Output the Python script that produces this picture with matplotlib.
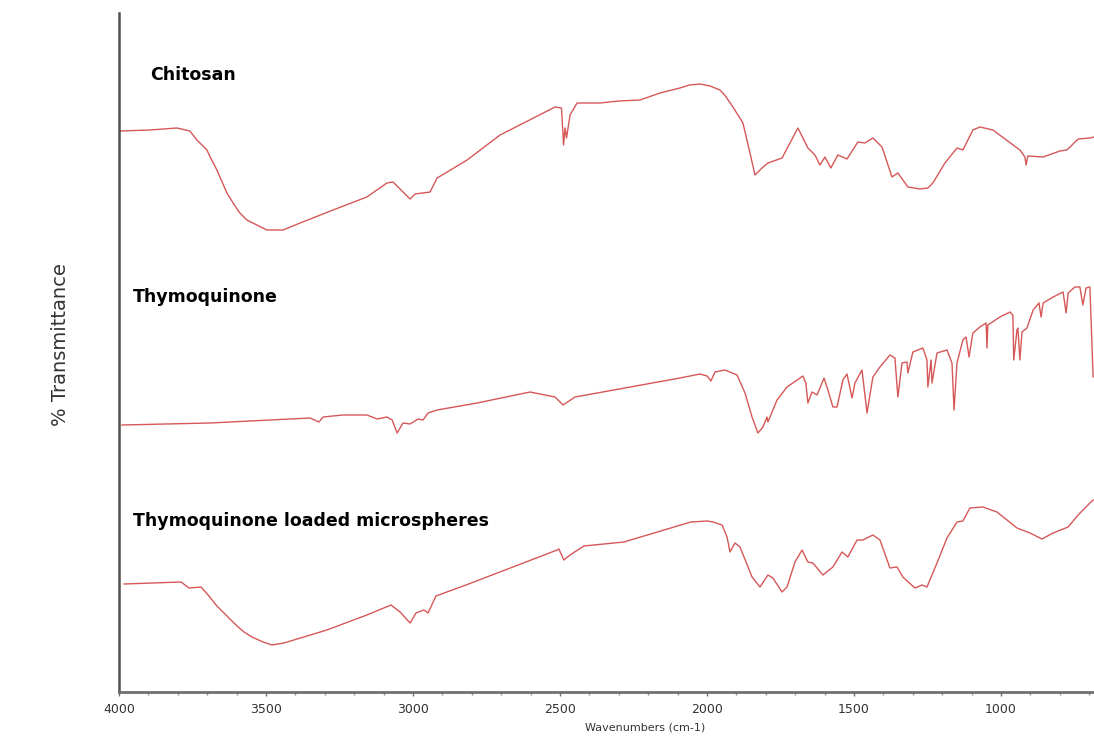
import matplotlib
matplotlib.use("Agg")
import matplotlib.pyplot as plt
from matplotlib.ticker import MultipleLocator

# FTIR spectra, wavenumber (cm-1) vs offset transmittance
chitosan_wn = [3997, 3895, 3803, 3759, 3735, 3701, 3690, 3667, 3633, 3612, 3589, 3565,
               3531, 3497, 3442, 3384, 3272, 3157, 3089, 3068, 3010, 2993, 2942, 2918,
               2816, 2704, 2517, 2495, 2488, 2483, 2478, 2466, 2442, 2364, 2300, 2228,
               2160, 2092, 2060, 2024, 1990, 1973, 1956, 1940, 1912, 1878, 1854, 1837,
               1813, 1793, 1745, 1718, 1691, 1657, 1633, 1616, 1599, 1579, 1555, 1524,
               1487, 1463, 1436, 1405, 1371, 1351, 1317, 1276, 1249, 1232, 1191, 1150,
               1130, 1096, 1072, 1028, 936, 919, 915, 909, 857, 800, 776, 738, 698, 684]
chitosan_t = [561, 562, 564, 561, 552, 542, 535, 522, 499, 489, 479, 472,
              467, 462, 462, 469, 482, 495, 509, 510, 493, 498, 500, 514,
              532, 557, 585, 584, 547, 564, 554, 577, 589, 589, 591, 592,
              599, 604, 607, 608, 606, 604, 602, 597, 585, 569, 539, 517,
              524, 529, 534, 549, 564, 544, 537, 527, 535, 524, 537, 533,
              550, 549, 554, 545, 515, 519, 505, 503, 504, 509, 529, 544,
              542, 562, 565, 562, 542, 535, 527, 536, 535, 541, 542, 553, 554, 555]

thymo_wn = [3990, 3690, 3350, 3320, 3306, 3238, 3157, 3122, 3089, 3071, 3054, 3034,
            3010, 2983, 2966, 2949, 2918, 2782, 2602, 2517, 2490, 2449, 2092, 2024,
            2000, 1987, 1973, 1939, 1898, 1871, 1847, 1827, 1810, 1796, 1793, 1762,
            1728, 1674, 1664, 1657, 1643, 1626, 1602, 1589, 1572, 1558, 1538, 1524,
            1507, 1497, 1473, 1456, 1436, 1412, 1378, 1361, 1351, 1337, 1320, 1317,
            1300, 1266, 1252, 1249, 1238, 1235, 1218, 1184, 1167, 1160, 1150, 1130,
            1119, 1116, 1109, 1096, 1072, 1051, 1048, 1045, 1004, 970, 960, 957,
            946, 943, 936, 929, 912, 891, 871, 864, 857, 823, 789, 779, 772, 749,
            732, 722, 711, 698, 687]
thymo_t = [267, 269, 274, 270, 275, 277, 277, 273, 275, 272, 259, 269,
           268, 273, 272, 279, 282, 289, 300, 295, 287, 295, 314, 318,
           316, 311, 320, 322, 317, 299, 275, 259, 265, 275, 270, 292,
           305, 316, 309, 289, 300, 297, 314, 302, 285, 285, 312, 318,
           294, 309, 322, 279, 315, 325, 337, 334, 295, 329, 330, 319,
           340, 344, 332, 305, 332, 309, 339, 342, 329, 282, 329, 352,
           355, 349, 335, 359, 365, 369, 344, 367, 375, 380, 377, 332,
           362, 364, 332, 360, 364, 382, 389, 375, 389, 395, 400, 379, 399, 405,
           405, 387, 404, 405, 315]

micro_wn = [3983, 3789, 3762, 3721, 3694, 3667, 3602, 3575, 3548, 3510, 3480, 3439,
            3293, 3157, 3075, 3044, 3010, 2990, 2963, 2949, 2922, 2820, 2687, 2510,
            2504, 2487, 2466, 2419, 2283, 2055, 2000, 1980, 1949, 1932, 1922, 1905,
            1888, 1847, 1820, 1793, 1776, 1745, 1728, 1701, 1677, 1657, 1640, 1606,
            1572, 1541, 1521, 1490, 1470, 1436, 1412, 1378, 1354, 1334, 1293, 1269,
            1252, 1218, 1184, 1150, 1130, 1106, 1062, 1014, 946, 902, 861, 823, 772,
            738, 698, 687]
micro_t = [108, 110, 104, 105, 96, 86, 67, 60, 55, 50, 47, 49,
           62, 77, 87, 80, 69, 79, 82, 79, 96, 107, 122, 142,
           143, 132, 137, 146, 150, 170, 171, 170, 167, 155, 140, 149,
           145, 115, 105, 117, 114, 100, 105, 130, 142, 130, 129, 117,
           125, 140, 135, 152, 152, 157, 152, 124, 125, 115, 104, 107,
           105, 129, 154, 170, 171, 184, 185, 180, 164, 159, 153, 159, 165,
           177, 189, 192]

names = ["Chitosan", "Thymoquinone", "Thymoquinone loaded microspheres"]
name_pos = [(3895, 617), (3952, 395), (3952, 171)]

fig = plt.figure(figsize=(10.94, 7.37), dpi=100)
ax = fig.add_axes([119 / 1094, 45 / 737, 1 - 119 / 1094, 679 / 737])

line_color = "#d24545"
for wn, t in [(chitosan_wn, chitosan_t), (thymo_wn, thymo_t), (micro_wn, micro_t)]:
    ax.plot(wn, t, color=line_color, lw=1.0, alpha=0.9)

for name, (x, y) in zip(names, name_pos):
    ax.text(x, y, name, fontsize=12.5, fontweight="bold", family="DejaVu Sans",
            color="black", va="center", ha="left")

ax.set_xlim(4000, 684)
ax.set_ylim(0, 679)
ax.xaxis.set_major_locator(MultipleLocator(500))
ax.xaxis.set_minor_locator(MultipleLocator(100))
ax.set_yticks([])
for s in ["top", "right"]:
    ax.spines[s].set_visible(False)
ax.spines["left"].set_color("#505050")
ax.spines["left"].set_linewidth(1.8)
ax.spines["bottom"].set_color("#707070")
ax.spines["bottom"].set_linewidth(2.0)
ax.tick_params(axis="x", which="major", length=3, width=1, color="#707070",
               labelsize=9, labelcolor="#333333", pad=5)
ax.tick_params(axis="x", which="minor", length=2, width=1, color="#909090")

fig.text(645 / 1094, 1 - 728 / 737, "Wavenumbers (cm-1)", fontsize=8,
         color="#333333", ha="center", va="center")
fig.text(60 / 1094, 1 - 345 / 737, "% Transmittance", fontsize=14, rotation=90,
         color="#333333", ha="center", va="center")

fig.savefig("out.png", dpi=100)
